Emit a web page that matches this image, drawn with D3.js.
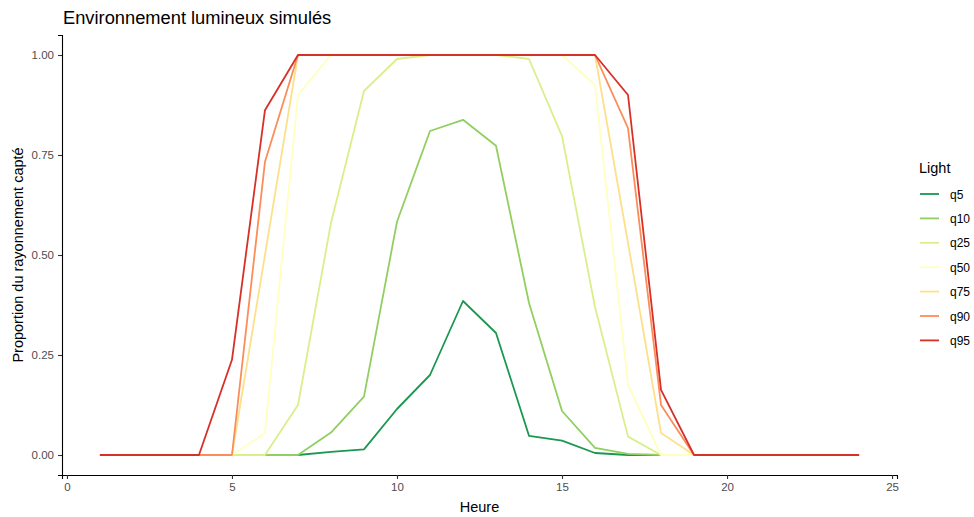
<!DOCTYPE html>
<html>
<head>
<meta charset="utf-8">
<script src="https://cdnjs.cloudflare.com/ajax/libs/d3/7.8.5/d3.min.js"></script>
<style>
  body { margin: 0; background: #fff; }
  svg text { font-family: "Liberation Sans", Arial, sans-serif; }
</style>
</head>
<body>
<div id="vis"></div>
<script>
const hours = d3.range(1, 25);
const seriesNames = ["q5", "q10", "q25", "q50", "q75", "q90", "q95"];
const seriesColors = ["#1a9850", "#91cf60", "#d9ef8b", "#ffffbf", "#fee08b", "#fc8d59", "#d73027"];

// one value per hour, 1..24
const q5  = [0,0,0,0,0,0,0,0.008,0.014,0.115,0.2,0.385,0.305,0.048,0.036,0.005,0,0,0,0,0,0,0,0];
const q10 = [0,0,0,0,0,0,0,0.056,0.146,0.583,0.81,0.838,0.773,0.38,0.11,0.018,0.003,0,0,0,0,0,0,0];
const q25 = [0,0,0,0,0,0,0.125,0.58,0.91,0.99,1,1,1,0.99,0.797,0.37,0.046,0,0,0,0,0,0,0];
const q50 = [0,0,0,0,0,0.055,0.9,1,1,1,1,1,1,1,1,0.925,0.175,0,0,0,0,0,0,0];
const q75 = [0,0,0,0,0,0.5,1,1,1,1,1,1,1,1,1,1,0.53,0.055,0,0,0,0,0,0];
const q90 = [0,0,0,0,0,0.733,1,1,1,1,1,1,1,1,1,1,0.817,0.125,0,0,0,0,0,0];
const q95 = [0,0,0,0,0.238,0.862,1,1,1,1,1,1,1,1,1,1,0.9,0.163,0,0,0,0,0,0];
const seriesValues = [q5, q10, q25, q50, q75, q90, q95];

const xTicks = [0, 5, 10, 15, 20, 25];
const yTicks = [0, 0.25, 0.5, 0.75, 1];

const width = 974, height = 517;
const panel = {left: 62, right: 897, top: 35, bottom: 475};

const svg = d3.select("#vis").append("svg")
    .attr("width", width)
    .attr("height", height);

const x = d3.scaleLinear().domain([-0.15, 25.15]).range([panel.left, panel.right]);
const y = d3.scaleLinear().domain([-0.05, 1.05]).range([panel.bottom, panel.top]);

// axes
const xAxis = svg.append("g")
    .attr("transform", `translate(0,${panel.bottom})`)
    .call(d3.axisBottom(x).tickValues(xTicks).tickSize(4).tickPadding(4).tickFormat(d3.format("d")));
const yAxis = svg.append("g")
    .attr("transform", `translate(${panel.left},0)`)
    .call(d3.axisLeft(y).tickValues(yTicks).tickSize(4).tickPadding(4).tickFormat(d3.format(".2f")));

[xAxis, yAxis].forEach(a => {
  a.select(".domain").attr("stroke", "#000").attr("stroke-width", 1.1);
  a.selectAll(".tick line").attr("stroke", "#333").attr("stroke-width", 1.1);
  a.selectAll(".tick text").attr("fill", "#4d4d4d").style("font-size", "11.5px");
});

// lines
const line = d3.line()
    .x((d, i) => x(hours[i]))
    .y(d => y(d));

svg.append("g").selectAll("path")
    .data(seriesValues)
    .join("path")
    .attr("d", d => line(d))
    .attr("fill", "none")
    .attr("stroke", (d, i) => seriesColors[i])
    .attr("stroke-width", 1.8)
    .attr("stroke-linejoin", "round");

// titles
svg.append("text")
    .attr("x", 63).attr("y", 24)
    .style("font-size", "18.3px")
    .attr("fill", "#000")
    .text("Environnement lumineux simulés");

svg.append("text")
    .attr("x", (panel.left + panel.right) / 2).attr("y", 512)
    .attr("text-anchor", "middle")
    .style("font-size", "14.5px")
    .text("Heure");

svg.append("text")
    .attr("transform", `translate(23,${(panel.top + panel.bottom) / 2}) rotate(-90)`)
    .attr("text-anchor", "middle")
    .style("font-size", "14.5px")
    .text("Proportion du rayonnement capté");

// legend
const legend = svg.append("g").attr("transform", "translate(919,0)");
legend.append("text")
    .attr("x", 0).attr("y", 173)
    .style("font-size", "14.5px")
    .text("Light");

const items = legend.selectAll("g.item")
    .data(seriesNames)
    .join("g")
    .attr("class", "item")
    .attr("transform", (d, i) => `translate(0,${194 + i * 24.4})`);
items.append("line")
    .attr("x1", 1).attr("x2", 20)
    .attr("stroke", (d, i) => seriesColors[i])
    .attr("stroke-width", 1.8);
items.append("text")
    .attr("x", 31).attr("y", 4.5)
    .style("font-size", "12px")
    .text(d => d);
</script>
</body>
</html>
